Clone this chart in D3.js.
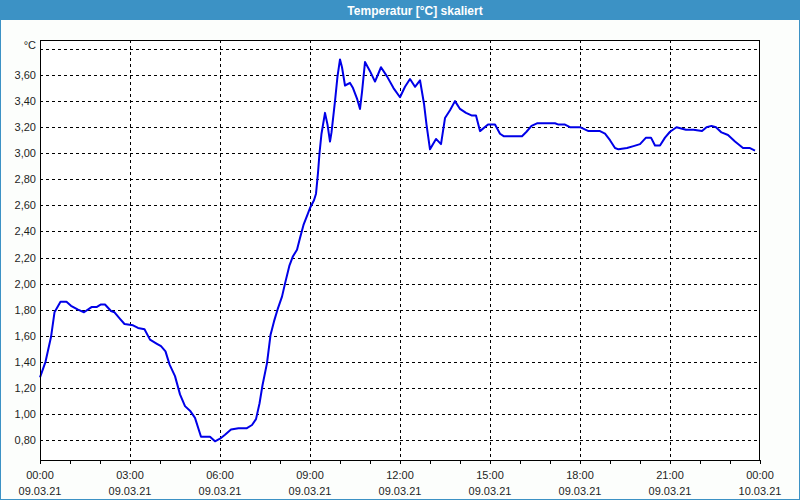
<!DOCTYPE html>
<html>
<head>
<meta charset="utf-8">
<script src="https://cdn.jsdelivr.net/npm/d3@7"></script>
<style>
  html, body { margin: 0; padding: 0; background: #fcfefc; }
  svg { display: block; }
</style>
</head>
<body>
<svg id="chart" width="800" height="500"></svg>
<script>
// ---- data ----
const title = "Temperatur [°C] skaliert";
const unitLabel = "°C";
const startDay = new Date(2021, 2, 9, 0, 0);
const endDay = new Date(2021, 2, 10, 0, 0);
// hours after 00:00 on 09.03.21
const hours = [0.00,0.18,0.36,0.49,0.69,0.88,1.04,1.27,1.47,1.71,1.88,2.04,2.16,2.36,2.49,2.66,2.82,3.10,3.27,3.49,3.66,3.88,4.04,4.19,4.32,4.50,4.67,4.83,5.02,5.17,5.36,5.67,5.83,6.00,6.17,6.36,6.61,6.89,7.06,7.20,7.31,7.42,7.56,7.69,7.80,7.91,8.06,8.17,8.31,8.44,8.56,8.67,8.78,8.91,9.00,9.14,9.20,9.26,9.31,9.39,9.50,9.59,9.67,9.72,9.83,9.91,10.00,10.07,10.17,10.33,10.44,10.56,10.67,10.74,10.83,11.00,11.17,11.36,11.56,11.78,12.00,12.17,12.33,12.50,12.67,12.80,12.89,13.00,13.20,13.36,13.50,13.67,13.83,14.00,14.20,14.39,14.53,14.67,14.94,15.17,15.33,15.47,16.00,16.06,16.22,16.39,16.56,16.78,17.17,17.28,17.50,17.67,18.00,18.28,18.67,18.83,19.00,19.17,19.28,19.56,19.78,20.00,20.20,20.36,20.50,20.67,20.83,21.00,21.22,21.53,21.78,22.06,22.22,22.39,22.53,22.72,22.94,23.17,23.44,23.67,23.83];
const temps = [1.28,1.40,1.59,1.78,1.86,1.86,1.83,1.80,1.78,1.82,1.82,1.84,1.84,1.79,1.78,1.73,1.69,1.68,1.66,1.65,1.57,1.54,1.52,1.48,1.38,1.29,1.15,1.06,1.02,0.97,0.825,0.825,0.79,0.81,0.84,0.88,0.89,0.89,0.915,0.96,1.08,1.22,1.39,1.605,1.71,1.80,1.90,2.00,2.14,2.21,2.26,2.35,2.45,2.53,2.58,2.64,2.69,2.85,3.00,3.15,3.31,3.22,3.09,3.16,3.40,3.59,3.72,3.66,3.52,3.54,3.50,3.42,3.34,3.47,3.70,3.63,3.55,3.66,3.59,3.50,3.43,3.51,3.57,3.51,3.56,3.38,3.22,3.03,3.11,3.07,3.27,3.33,3.40,3.34,3.31,3.29,3.29,3.17,3.22,3.22,3.15,3.13,3.13,3.13,3.165,3.21,3.23,3.23,3.23,3.22,3.22,3.20,3.20,3.17,3.17,3.15,3.10,3.04,3.03,3.04,3.055,3.07,3.12,3.12,3.06,3.06,3.12,3.165,3.20,3.18,3.18,3.17,3.20,3.21,3.20,3.16,3.14,3.09,3.04,3.04,3.02];
const yTicks = [0.8,1.0,1.2,1.4,1.6,1.8,2.0,2.2,2.4,2.6,2.8,3.0,3.2,3.4,3.6];
const yTop = 3.8; // top grid line, labelled with unit

// ---- layout ----
const svg = d3.select("#chart");
const W = 800, H = 500;
const frameColor = "#3c92c5";
const plot = {left: 40, top: 40, right: 760, bottom: 460};

const x = d3.scaleTime().domain([startDay, endDay]).range([plot.left, plot.right]);
const y = d3.scaleLinear().domain([0.8, 3.8]).range([440, 49]);

const loc = d3.formatLocale({decimal: ",", thousands: ".", grouping: [3], currency: ["", "€"]});
const fmt = loc.format(".2f");

// background & frame
svg.append("rect").attr("x", 0).attr("y", 0).attr("width", W).attr("height", H).attr("fill", "#fcfefc");
svg.append("rect").attr("x", 0.5).attr("y", 0.5).attr("width", W - 1).attr("height", H - 1)
  .attr("fill", "none").attr("stroke", frameColor).attr("stroke-width", 1);
svg.append("rect").attr("x", 0).attr("y", 0).attr("width", W).attr("height", 20).attr("fill", frameColor);
svg.append("text").attr("x", W / 2 + 15).attr("y", 14.5).attr("text-anchor", "middle")
  .attr("font-family", "'Liberation Sans', Arial, sans-serif").attr("font-size", "12px")
  .attr("font-weight", "bold").attr("fill", "#ffffff").text(title);

// plot background
svg.append("rect").attr("x", plot.left).attr("y", plot.top)
  .attr("width", plot.right - plot.left).attr("height", plot.bottom - plot.top).attr("fill", "#ffffff");

// grid
const gridG = svg.append("g").attr("stroke", "#000").attr("stroke-width", 1).attr("stroke-dasharray", "3,3");
yTicks.concat([yTop]).forEach(v => {
  const yy = Math.round(y(v)) + 0.5;
  gridG.append("line").attr("x1", plot.left).attr("x2", plot.right).attr("y1", yy).attr("y2", yy);
});
const majorTicks = x.ticks(d3.timeHour.every(3));
majorTicks.forEach(t => {
  const xx = Math.round(x(t)) + 0.5;
  if (xx > plot.left + 1 && xx < plot.right - 1)
    gridG.append("line").attr("x1", xx).attr("x2", xx).attr("y1", plot.top).attr("y2", plot.bottom);
});

// line
const data = hours.map((h, i) => ({t: d3.timeMinute.offset(startDay, Math.round(h * 60)), v: temps[i]}));
const line = d3.line().x(d => x(d.t)).y(d => y(d.v));
svg.append("path").datum(data).attr("d", line).attr("fill", "none")
  .attr("stroke", "#0000e8").attr("stroke-width", 2).attr("stroke-linejoin", "round");

// border
svg.append("rect").attr("x", plot.left + 0.5).attr("y", plot.top + 0.5)
  .attr("width", plot.right - plot.left - 1).attr("height", plot.bottom - plot.top)
  .attr("fill", "none").attr("stroke", "#000").attr("stroke-width", 1);

// x axis ticks
const minorTicks = x.ticks(d3.timeHour.every(1));
svg.append("g").selectAll("line").data(minorTicks).join("line")
  .attr("x1", d => Math.round(x(d)) + 0.5).attr("x2", d => Math.round(x(d)) + 0.5)
  .attr("y1", plot.bottom).attr("y2", plot.bottom + 4)
  .attr("stroke", "#000").attr("stroke-width", 1);

const labelFont = "'Liberation Sans', Arial, sans-serif";
const textColor = "#1e1e1e";
const xl = svg.append("g").attr("font-family", labelFont).attr("font-size", "11px").attr("fill", textColor)
  .attr("text-anchor", "middle");
majorTicks.forEach(t => {
  xl.append("text").attr("x", x(t)).attr("y", 479).text(d3.timeFormat("%H:%M")(t));
  xl.append("text").attr("x", x(t)).attr("y", 495).text(d3.timeFormat("%d.%m.%y")(t));
});

// y labels
const yl = svg.append("g").attr("font-family", labelFont).attr("font-size", "11px").attr("fill", textColor)
  .attr("text-anchor", "end");
yTicks.forEach(v => {
  yl.append("text").attr("x", 36).attr("y", y(v) + 4).text(fmt(v));
});
yl.append("text").attr("x", 36).attr("y", 49).text(unitLabel);
</script>
</body>
</html>
